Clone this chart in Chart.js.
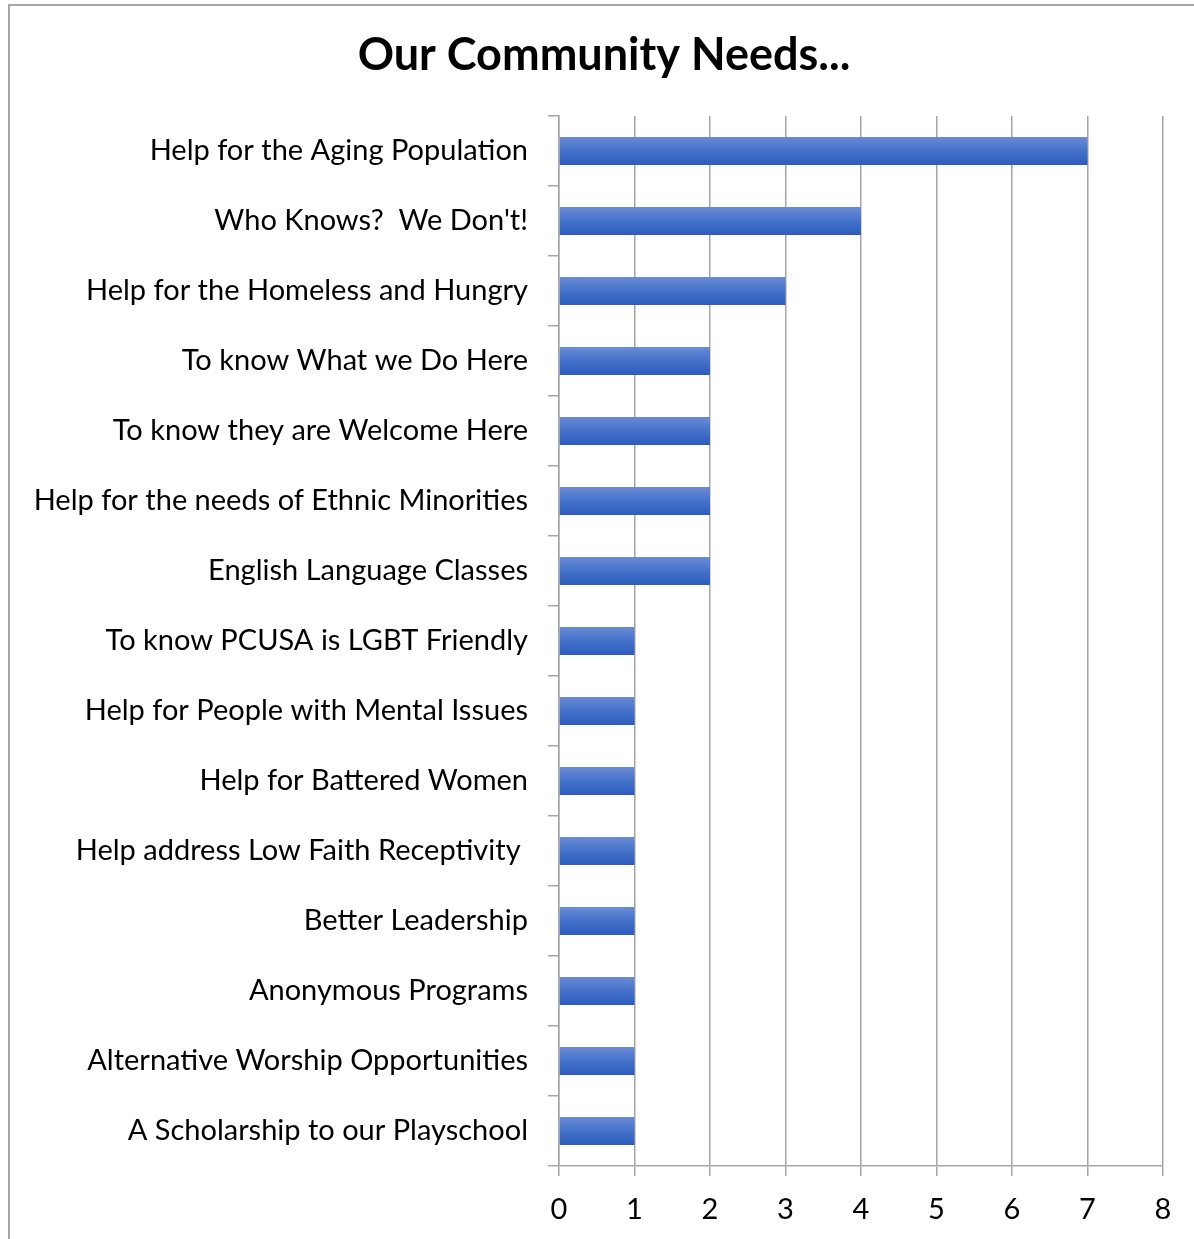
<!DOCTYPE html>
<html>
<head>
<meta charset="utf-8">
<script src="https://cdn.jsdelivr.net/npm/chart.js@4/dist/chart.umd.min.js"></script>
<style>
  html, body { margin: 0; padding: 0; background: #fff; overflow: hidden; }
  #frame { position: absolute; left: 8px; top: 4px; width: 1200px; height: 1250px; border: 2px solid #a6a6a6; }
  #wrap { position: absolute; left: 0; top: 0; width: 1194px; height: 1239px; }
</style>
</head>
<body>
<div id="frame"></div>
<div id="wrap"><canvas id="myChart"></canvas></div>
<script>
var Needs = [
    'Help for the Aging Population',
    "Who Knows?  We Don't!",
    'Help for the Homeless and Hungry',
    'To know What we Do Here',
    'To know they are Welcome Here',
    'Help for the needs of Ethnic Minorities',
    'English Language Classes',
    'To know PCUSA is LGBT Friendly',
    'Help for People with Mental Issues',
    'Help for Battered Women',
    'Help address Low Faith Receptivity ',
    'Better Leadership',
    'Anonymous Programs',
    'Alternative Worship Opportunities',
    'A Scholarship to our Playschool'
];
var Votes = [7, 4, 3, 2, 2, 2, 2, 1, 1, 1, 1, 1, 1, 1, 1];
var Ticks = [0, 1, 2, 3, 4, 5, 6, 7, 8];

var FONT = 'Lato, "Open Sans", sans-serif';
var GRID = '#a6a6a6';
var BAR_PCT = 0.4;

// vertical shading on each bar, lighter on top
function barShade(c) {
    var chart = c.chart;
    var y = chart.scales.y;
    if (!y || !chart.chartArea || c.dataIndex === undefined) return '#4472c4';
    var h = (y.bottom - y.top) / Needs.length * BAR_PCT;
    var top = y.getPixelForValue(c.dataIndex) - h / 2;
    var g = chart.ctx.createLinearGradient(0, top, 0, top + h);
    g.addColorStop(0, '#6b8bd6');
    g.addColorStop(0.5, '#4472c9');
    g.addColorStop(1, '#2d5cbd');
    return g;
}

// center the title on the framed box rather than the plot
const titleShift = {
    id: 'titleShift',
    afterLayout: function (chart) {
        if (chart.titleBlock) chart.titleBlock.left = 45;
    }
};

function initchart() {
    const config = {
        type: 'bar',
        data: {
            labels: Needs,
            datasets: [{
                data: Votes,
                backgroundColor: barShade,
                borderWidth: 0,
                categoryPercentage: 1,
                barPercentage: BAR_PCT
            }]
        },
        options: {
            indexAxis: 'y',
            responsive: true,
            maintainAspectRatio: false,
            animation: false,
            layout: { padding: { left: 0, right: 31, top: 0, bottom: 0 } },
            plugins: {
                legend: { display: false },
                tooltip: { enabled: false },
                title: {
                    display: true,
                    text: 'Our Community Needs...',
                    color: '#000',
                    font: { family: FONT, size: 45, weight: 'bold', lineHeight: 1.2 },
                    padding: { top: 28, bottom: 34 }
                }
            },
            scales: {
                x: {
                    min: 0,
                    max: 8,
                    afterBuildTicks: function (scale) {
                        scale.ticks = Ticks.map(function (v) { return { value: v }; });
                    },
                    afterFit: function (scale) { scale.height = 73; },
                    grid: { color: GRID, lineWidth: 1.5, tickLength: 10, tickColor: GRID },
                    border: { color: GRID, width: 1.5 },
                    ticks: { color: '#000', padding: 16, font: { family: FONT, size: 29 } }
                },
                y: {
                    afterFit: function (scale) { scale.width = 559; },
                    grid: { drawOnChartArea: false, color: GRID, lineWidth: 1.5, tickLength: 11 },
                    border: { color: GRID, width: 1.5 },
                    ticks: { color: '#000', padding: 20, autoSkip: false, font: { family: FONT, size: 29 } }
                }
            }
        },
        plugins: [titleShift]
    };

    const myChart = new Chart(document.getElementById('myChart'), config);
}

initchart();
</script>
</body>
</html>
